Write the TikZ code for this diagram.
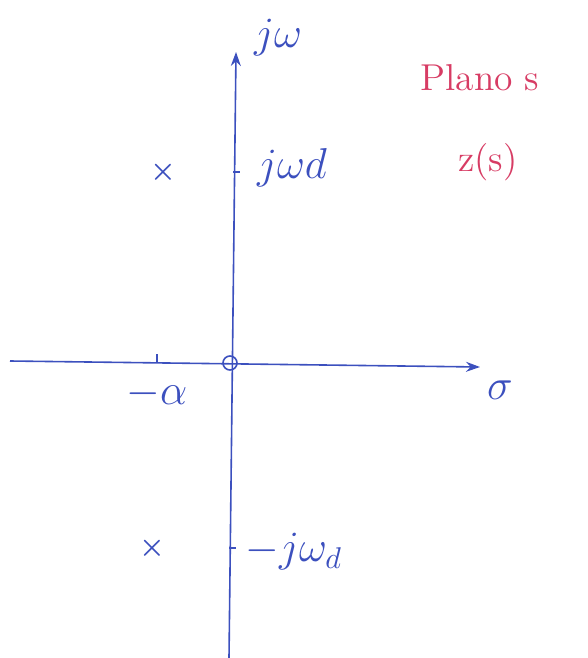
\documentclass[tikz,border=0pt]{standalone}
\usepackage{amsmath,amssymb}
\usetikzlibrary{arrows.meta,positioning}
\definecolor{penblue}{RGB}{60,80,190}
\definecolor{penred}{RGB}{215,60,100}
\tikzset{
  axis/.style={penblue, line width=1.6pt, -{Stealth[length=14pt,width=10pt]}},
  tick/.style={penblue, line width=1.4pt},
  pole/.style={penblue, font=\Large\boldmath, scale=2.0},
  lbl/.style={penblue, font=\Large, scale=3.0},
  note/.style={penred, font=\Large, scale=2.6}
}
\begin{document}
\begin{tikzpicture}[x=1pt, y=-1pt]
  \useasboundingbox (0,0) rectangle (588,658);

  % Axes
  \coordinate (sigL) at (10,361);
  \coordinate (sigR) at (480,367);
  \coordinate (omB) at (229,658);
  \coordinate (omT) at (236,52);
  \draw[axis] (sigL) -- (sigR);
  \draw[axis] (omB) -- (omT);
  \node[lbl] (sig) at (500,390) {$\sigma$};
  \node[lbl] (jw) at (278,38) {$j\omega$};

  % Zero at the origin
  \node[draw=penblue, circle, line width=1.6pt, minimum size=14pt, inner sep=0pt] (zero) at (230,363) {};

  % Ticks on the axes
  \draw[tick] (157,354) -- (157,362);
  \node[lbl] (alpha) at (157,394) {$-\alpha$};
  \draw[tick] (233,172) -- (240,172);
  \node[lbl] (wd) at (292,168) {$j\omega d$};
  \draw[tick] (229,548) -- (236,548);
  \node[lbl] (mwd) at (294,552) {$-j\omega_d$};

  % Poles
  \node[pole] (p1) at (163,172) {$\times$};
  \node[pole] (p2) at (152,548) {$\times$};

  % Notes
  \node[note] (plano) at (480,78) {Plano s};
  \node[note] (zs) at (488,162) {z(s)};
\end{tikzpicture}
\end{document}
